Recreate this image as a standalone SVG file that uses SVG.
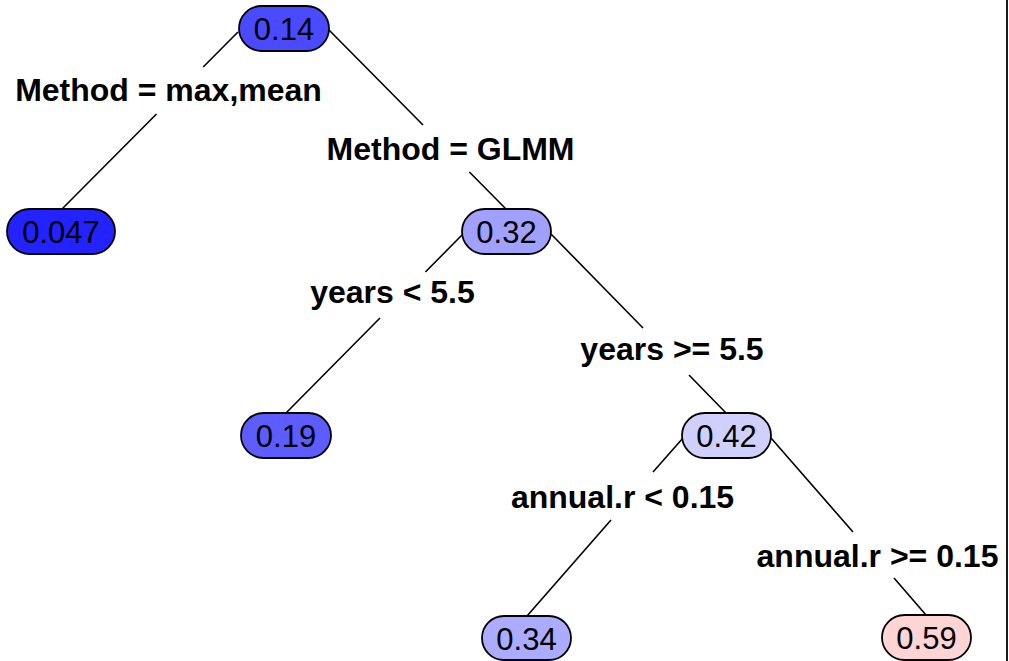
<svg xmlns="http://www.w3.org/2000/svg" width="1009" height="661" viewBox="0 0 1009 661">
<style>
.node rect{stroke:#000;stroke-width:1.8}
.node text{font-family:"Liberation Sans",Arial,sans-serif;font-size:31px;text-anchor:middle;fill:#000}
.lbl{font-family:"Liberation Sans",Arial,sans-serif;font-size:32px;font-weight:bold;text-anchor:middle;fill:#000}
.edge{fill:none;stroke:#000;stroke-width:1.6}
</style>
<rect width="1009" height="661" fill="#fff"/>
<line x1="1007" y1="0" x2="1007" y2="661" stroke="#000" stroke-width="1.8"/>
<g id="connectors">
<path class="edge" d="M238,32 L203.2,67 M156.5,114 L62,209"/>
<path class="edge" d="M329,30 L423,125 M469.4,172 L506,209"/>
<path class="edge" d="M462,235 L425.4,272 M380,318 L286,413"/>
<path class="edge" d="M551,234 L643,328 M689,375 L726,413"/>
<path class="edge" d="M683,438 L653,472 M611,520 L527,616"/>
<path class="edge" d="M771,438 L853,532 M894,578 L926,615"/>
</g>
<g id="labels">
<text class="lbl" x="168.5" y="100.5">Method = max,mean</text>
<text class="lbl" x="450.5" y="159.5">Method = GLMM</text>
<text class="lbl" x="392.5" y="302.5">years &lt; 5.5</text>
<text class="lbl" x="672" y="359.5">years &gt;= 5.5</text>
<text class="lbl" x="622.5" y="507.5">annual.r &lt; 0.15</text>
<text class="lbl" x="877.5" y="566.5">annual.r &gt;= 0.15</text>
</g>
<g id="n1" class="node"><rect x="239" y="6" width="90" height="45" rx="22.5" fill="#4A4AFF"/><text x="284" y="39.5">0.14</text></g>
<g id="n2" class="node"><rect x="7" y="209" width="108" height="45" rx="22.5" fill="#2323FF"/><text x="61" y="242.5">0.047</text></g>
<g id="n3" class="node"><rect x="462" y="209" width="89" height="45" rx="22.5" fill="#A0A0FF"/><text x="506.5" y="242.5">0.32</text></g>
<g id="n4" class="node"><rect x="241" y="413" width="90" height="45" rx="22.5" fill="#5C5CFF"/><text x="286" y="446.5">0.19</text></g>
<g id="n5" class="node"><rect x="682" y="413" width="89" height="45" rx="22.5" fill="#D0D0FF"/><text x="726.5" y="446.5">0.42</text></g>
<g id="n6" class="node"><rect x="482" y="616" width="89" height="44" rx="22" fill="#ABABFF"/><text x="526.5" y="649.5">0.34</text></g>
<g id="n7" class="node"><rect x="882" y="615" width="89" height="45" rx="22.5" fill="#FFD4D4"/><text x="926.5" y="648.5">0.59</text></g>
</svg>
